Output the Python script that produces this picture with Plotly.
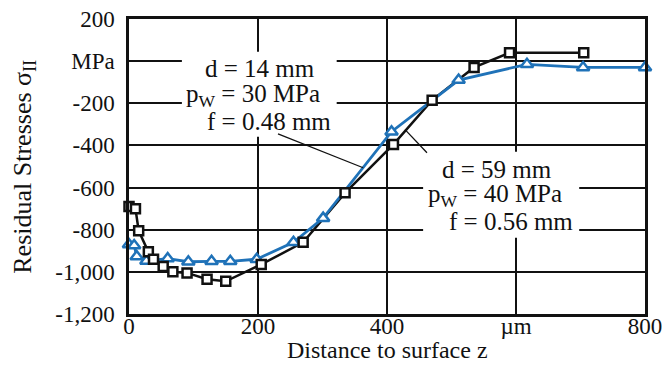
import plotly.graph_objects as go

# Data
black_x = [0, 10, 15, 30, 38, 53, 68, 90, 121, 150, 205, 270, 335, 410, 470, 535, 590, 705]
black_y = [-690, -700, -805, -905, -940, -975, -1000, -1005, -1035, -1045, -965, -860, -625, -395, -185, -30, 40, 40]

blue_x = [0, 8, 12, 27, 60, 92, 128, 157, 198, 255, 301, 407, 511, 617, 704, 800]
blue_y = [-870, -875, -927, -948, -937, -952, -950, -950, -940, -860, -745, -335, -90, -15, -30, -30]

x_ticks = [0, 200, 400, 600, 800]
x_ticktext = ["0", "200", "400", "µm", "800"]
y_ticks = [200, 0, -200, -400, -600, -800, -1000, -1200]
y_ticktext = ["200", "MPa", "-200", "-400", "-600", "-800", "-1,000", "-1,200"]

FONT = "Liberation Serif, Times New Roman, serif"
BLUE = "#1f72b8"
INK = "#111111"

fig = go.Figure()
fig.add_trace(go.Scatter(x=black_x, y=black_y, mode="lines",
                         line=dict(color=INK, width=2.5), cliponaxis=False, showlegend=False))
fig.add_trace(go.Scatter(x=blue_x, y=blue_y, mode="lines+markers",
                         line=dict(color=BLUE, width=2.8),
                         marker=dict(symbol="triangle-up", size=11, color="white",
                                     line=dict(color=BLUE, width=2.5)),
                         cliponaxis=False, showlegend=False))
fig.add_trace(go.Scatter(x=black_x, y=black_y, mode="markers",
                         marker=dict(symbol="square", size=9, color="white",
                                     line=dict(color=INK, width=2.5)),
                         cliponaxis=False, showlegend=False))

# White boxes behind the annotation text (hide gridlines)
fig.add_shape(type="rect", xref="x", yref="y", x0=82, x1=322, y0=-359, y1=45,
              fillcolor="white", line=dict(width=0), layer="between")
fig.add_shape(type="rect", xref="x", yref="y", x0=456, x1=698, y0=-838, y1=-430,
              fillcolor="white", line=dict(width=0), layer="between")
# Leader lines
fig.add_shape(type="line", xref="x", yref="y", x0=231, y0=-345, x1=363, y1=-506,
              line=dict(color=INK, width=1.3))
fig.add_shape(type="line", xref="x", yref="y", x0=428, y0=-325, x1=462, y1=-435,
              line=dict(color=INK, width=1.3))

ann_font = dict(family=FONT, size=25, color=INK)
texts = [
    ("d = 14 mm", 203, -36),
    ("p<sub>W</sub> = 30 MPa", 192, -164),
    ("f = 0.48 mm", 217, -288),
    ("d = 59 mm", 570, -515),
    ("p<sub>W</sub> = 40 MPa", 567, -639),
    ("f = 0.56 mm", 592, -762),
]
for t, xx, yy in texts:
    fig.add_annotation(x=xx, y=yy, xref="x", yref="y", text=t, showarrow=False,
                       font=ann_font, xanchor="center", yanchor="middle")

# Axis titles
fig.add_annotation(x=-0.205, y=0.5, xref="paper", yref="paper",
                   text="Residual Stresses σ<sub>II</sub>", textangle=-90, showarrow=False,
                   font=dict(family=FONT, size=26, color=INK), xanchor="center", yanchor="middle")
fig.add_annotation(x=0.5, y=-0.1695, xref="paper", yref="paper",
                   text="Distance to surface z", showarrow=False,
                   font=dict(family=FONT, size=24, color=INK), xanchor="center", yanchor="bottom",
                   borderpad=0)

fig.update_xaxes(range=[0, 800], tickvals=x_ticks, ticktext=x_ticktext,
                 showgrid=True, gridcolor=INK, gridwidth=1.5,
                 showline=True, linecolor=INK, linewidth=2.5, mirror=True,
                 ticks="", zeroline=False, ticklabelstandoff=-10,
                 tickfont=dict(family=FONT, size=23, color=INK))
fig.update_yaxes(range=[-1200, 200], tickvals=y_ticks, ticktext=y_ticktext,
                 showgrid=True, gridcolor=INK, gridwidth=1.5,
                 showline=True, linecolor=INK, linewidth=2.5, mirror=True,
                 ticks="", zeroline=False, ticklabelstandoff=7,
                 tickfont=dict(family=FONT, size=23, color=INK))

fig.update_layout(width=664, height=365,
                  margin=dict(l=129, r=19, t=19, b=51, autoexpand=False),
                  paper_bgcolor="white", plot_bgcolor="white",
                  font=dict(family=FONT, color=INK))

fig.write_html("out.html")
